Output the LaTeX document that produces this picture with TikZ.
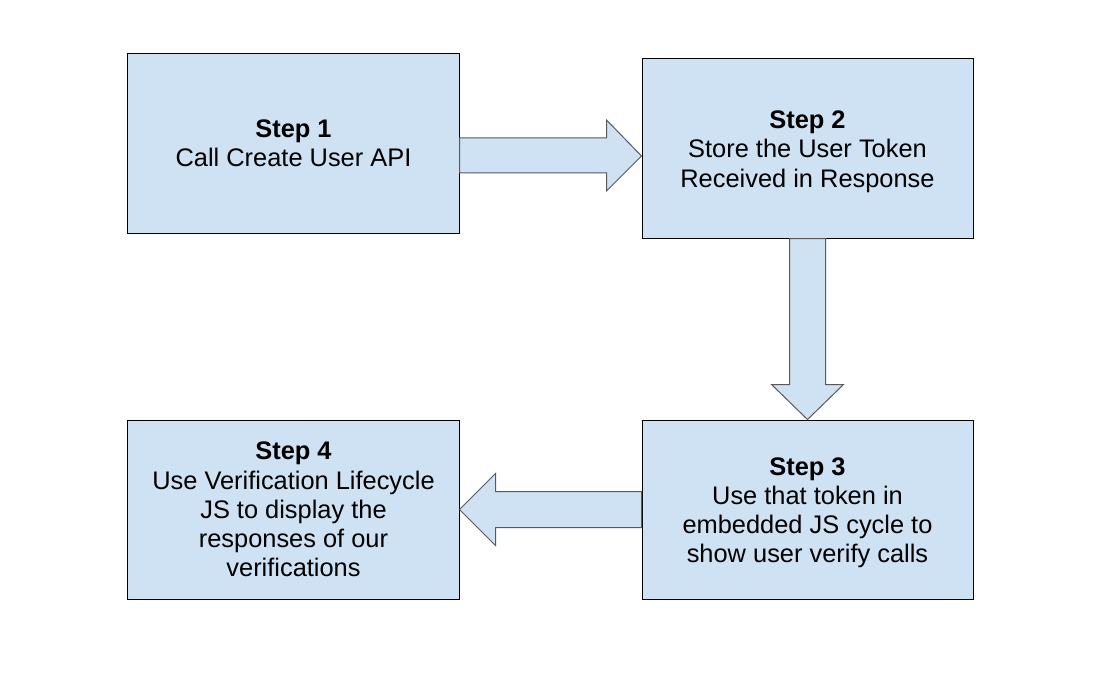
\documentclass[tikz,border=0pt]{standalone}
\usepackage{fontspec}
\setmainfont{Liberation Sans}
\usetikzlibrary{calc}
\definecolor{stepblue}{HTML}{CFE2F3}
\definecolor{arrowgray}{HTML}{595959}
\tikzset{
  stepbox/.style={draw=black, line width=1bp, fill=stepblue, minimum width=331bp, minimum height=179bp, inner sep=2bp, align=center, font=\fontsize{25.5}{29.3}\selectfont},
  blockarrow/.style={draw=arrowgray, line width=1bp, fill=stepblue, line join=miter}
}
\begin{document}
\begin{tikzpicture}[x=1bp, y=-1bp]
\useasboundingbox (0,0) rectangle (1100,678);
\node[stepbox] (s1) at (293.5,143.5){\textbf{Step 1}\\Call Create User API};
\node[stepbox] (s2) at (807.5,148.5){\rule{0pt}{24bp}\textbf{Step 2}\\Store the User Token\\Received in Response};
\node[stepbox] (s3) at (807.5,509.5){\rule{0pt}{24bp}\textbf{Step 3}\\Use that token in\\embedded JS cycle to\\show user verify calls};
\node[stepbox] (s4) at (293.5,509.5){\textbf{Step 4}\\Use Verification Lifecycle\\JS to display the\\responses of our\\verifications};

% step 1 -> step 2
\draw[blockarrow] ($(s1.east)+(0,-5.5)$) -- ($(s2.west)+(-35,-10.5)$) -- ($(s2.west)+(-35,-28.5)$) -- ($(s2.west)+(0,7.5)$) -- ($(s2.west)+(-35,42.5)$) -- ($(s2.west)+(-35,24.5)$) -- ($(s1.east)+(0,29.5)$) -- cycle;
% step 2 -> step 3
\draw[blockarrow] ($(s2.south)+(-18,0)$) -- ($(s3.north)+(-18,-35)$) -- ($(s3.north)+(-36,-35)$) -- (s3.north) -- ($(s3.north)+(36,-35)$) -- ($(s3.north)+(18,-35)$) -- ($(s2.south)+(18,0)$) -- cycle;
% step 3 -> step 4
\draw[blockarrow] ($(s3.west)+(0,-18)$) -- ($(s4.east)+(36,-18)$) -- ($(s4.east)+(36,-36)$) -- (s4.east) -- ($(s4.east)+(36,36)$) -- ($(s4.east)+(36,18)$) -- ($(s3.west)+(0,18)$) -- cycle;

\end{tikzpicture}
\end{document}
